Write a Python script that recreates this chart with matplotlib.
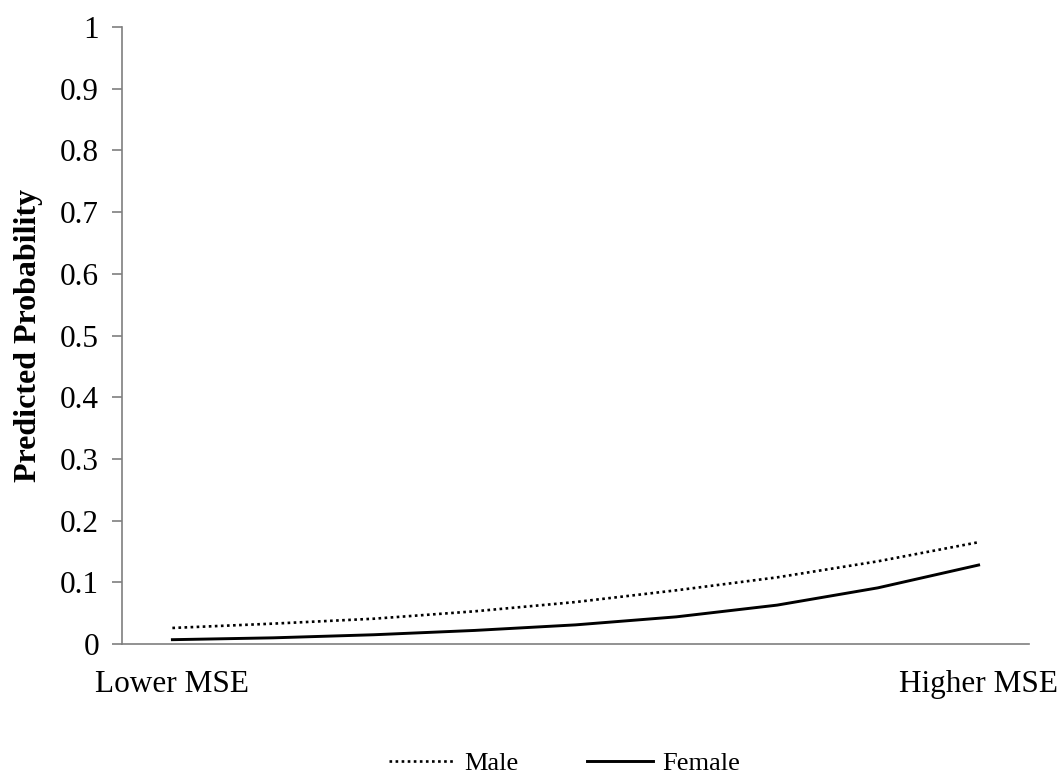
import matplotlib
matplotlib.use("Agg")
import matplotlib.pyplot as plt
import numpy as np

# Data
categories = ["Lower MSE", "", "", "", "", "", "", "", "Higher MSE"]
male = [0.026, 0.033, 0.041, 0.053, 0.068, 0.087, 0.108, 0.134, 0.165]
female = [0.007, 0.010, 0.015, 0.022, 0.031, 0.044, 0.063, 0.091, 0.128]
yticks = [0, 0.1, 0.2, 0.3, 0.4, 0.5, 0.6, 0.7, 0.8, 0.9, 1]
ytick_labels = ["0", "0.1", "0.2", "0.3", "0.4", "0.5", "0.6", "0.7", "0.8", "0.9", "1"]

plt.rcParams['font.family'] = ['Liberation Serif', 'DejaVu Serif']

fig = plt.figure(figsize=(10.64, 7.76), dpi=100)
ax = fig.add_axes([122/1064, 1 - 644/776, (1029-122)/1064, (644-27)/776])

x = np.arange(len(categories))
ax.plot(x, male, color='black', lw=1.9, linestyle=(0, (1, 1.3)), label='Male')
ax.plot(x, female, color='black', lw=2.1, linestyle='-', label='Female')

ax.set_xlim(-0.5, len(categories) - 0.5)
ax.set_ylim(0, 1)
ax.set_yticks(yticks)
ax.set_yticklabels(ytick_labels)
ax.set_xticks([0, len(categories) - 1])
ax.set_xticklabels([categories[0], categories[-1]])

for s in ['top', 'right']:
    ax.spines[s].set_visible(False)
for s in ['left', 'bottom']:
    ax.spines[s].set_color('#7f7f7f')
    ax.spines[s].set_linewidth(1.2)

ax.tick_params(axis='y', direction='out', length=7.5, width=1.2, color='#7f7f7f',
               labelsize=22.5, pad=9)
ax.tick_params(axis='x', length=0, labelsize=22.5, pad=19)

ax.set_ylabel('Predicted Probability', fontsize=23, fontweight='bold', labelpad=12)

fig.legend(loc='center', bbox_to_anchor=(565/1064, 0.016), ncol=2, frameon=False,
           fontsize=19, handlelength=2.5, handletextpad=0.35, columnspacing=2.6,
           borderaxespad=0.0, borderpad=0.1)

fig.savefig('out.png', dpi=100)
